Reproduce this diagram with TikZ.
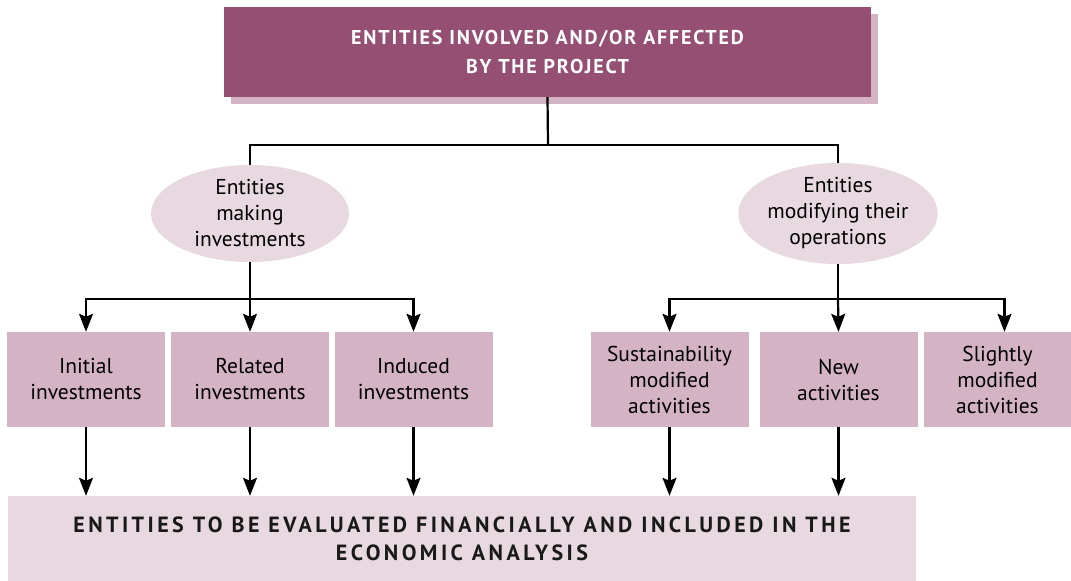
\documentclass[tikz,border=0pt]{standalone}
\usepackage{fontspec}
\setmainfont{PT Sans}
\newfontfamily\capsfont[LetterSpace=9]{PT Sans}
\newfontfamily\widecapsfont[LetterSpace=15.5]{PT Sans}
\usetikzlibrary{arrows.meta,shapes.geometric,shadows}

\definecolor{plum}{RGB}{149,79,115}
\definecolor{mauve}{RGB}{212,180,196}
\definecolor{blush}{RGB}{232,217,225}

\tikzset{
	title/.style = {rectangle, fill = plum, text = white, align = center, inner sep = 0,
		minimum width = 647pt, minimum height = 90pt,
		font = \capsfont\bfseries\fontsize{20}{29}\selectfont,
		drop shadow = {shadow xshift = 7pt, shadow yshift = -7pt, fill = mauve, opacity = 1}},
	oval/.style = {ellipse, fill = blush, align = center, inner sep = 0,
		minimum width = 198pt, minimum height = 97pt, font = \fontsize{21.5}{26}\selectfont},
	leaf/.style = {rectangle, fill = mauve, align = center, inner sep = 0,
		minimum width = 158pt, minimum height = 95pt, font = \fontsize{21.5}{26}\selectfont},
	result/.style = {rectangle, fill = blush, text = black!90, align = center, inner sep = 0,
		minimum width = 908pt, minimum height = 86pt,
		font = \widecapsfont\bfseries\fontsize{22}{28}\selectfont},
	line/.style = {line width = 2.2pt},
	arr/.style = {line, -{Stealth[length = 18pt, width = 14pt, inset = 3pt]}}
}

\begin{document}
\begin{tikzpicture}[x = 1pt, y = -1pt]
	\useasboundingbox (0, 0) rectangle (1071, 581);
	
	%	top
	\node[title] (top) at (547.5, 52) {ENTITIES INVOLVED AND/OR AFFECTED\\BY THE PROJECT};
	
	%	ellipses
	\node[oval] (inv) at (250, 213.5) {Entities\\making\\investments};
	\node[oval] (mod) at (838, 213.5) {Entities\\modifying their\\operations};
	
	%	boxes
	\node[leaf] (ini) at (86, 379.5) {Initial\\investments};
	\node[leaf] (rel) at (250, 379.5) {Related\\investments};
	\node[leaf] (ind) at (413.5, 379.5) {Induced\\investments};
	\node[leaf] (sus) at (669.5, 379.5) {Sustainability\\modified\\activities};
	\node[leaf] (new) at (838.5, 379.5) {New\\activities};
	\node[leaf, minimum width = 147pt] (sli) at (997.5, 379.5) {Slightly\\modified\\activities};
	
	%	bottom
	\node[result] (res) at (462, 539) {ENTITIES TO BE EVALUATED FINANCIALLY AND INCLUDED IN THE\\ECONOMIC ANALYSIS};
	
	%	connectors
	\coordinate (split) at (548, 145);
	\draw[line] (top.south) -- (split);
	\draw[line] (inv.north) |- (split) -| (mod.north);
	
	\coordinate (lsplit) at (250, 299);
	\draw[line] (inv.south) -- (lsplit);
	\draw[arr] (lsplit) -| (ini.north);
	\draw[arr] (lsplit) -- (rel.north);
	\draw[arr] (lsplit) -| (ind.north);
	
	\coordinate (rsplit) at (838, 299);
	\draw[line] (mod.south) -- (rsplit);
	\draw[arr] (rsplit) -| (sus.north);
	\draw[arr] (rsplit) -- (new.north);
	\draw[arr] (rsplit) -| ([xshift = 7pt]sli.north);
	
	\foreach \n in {ini, rel, ind, sus, new}
		\draw[arr] (\n.south) -- (\n.south |- res.north);
\end{tikzpicture}
\end{document}
